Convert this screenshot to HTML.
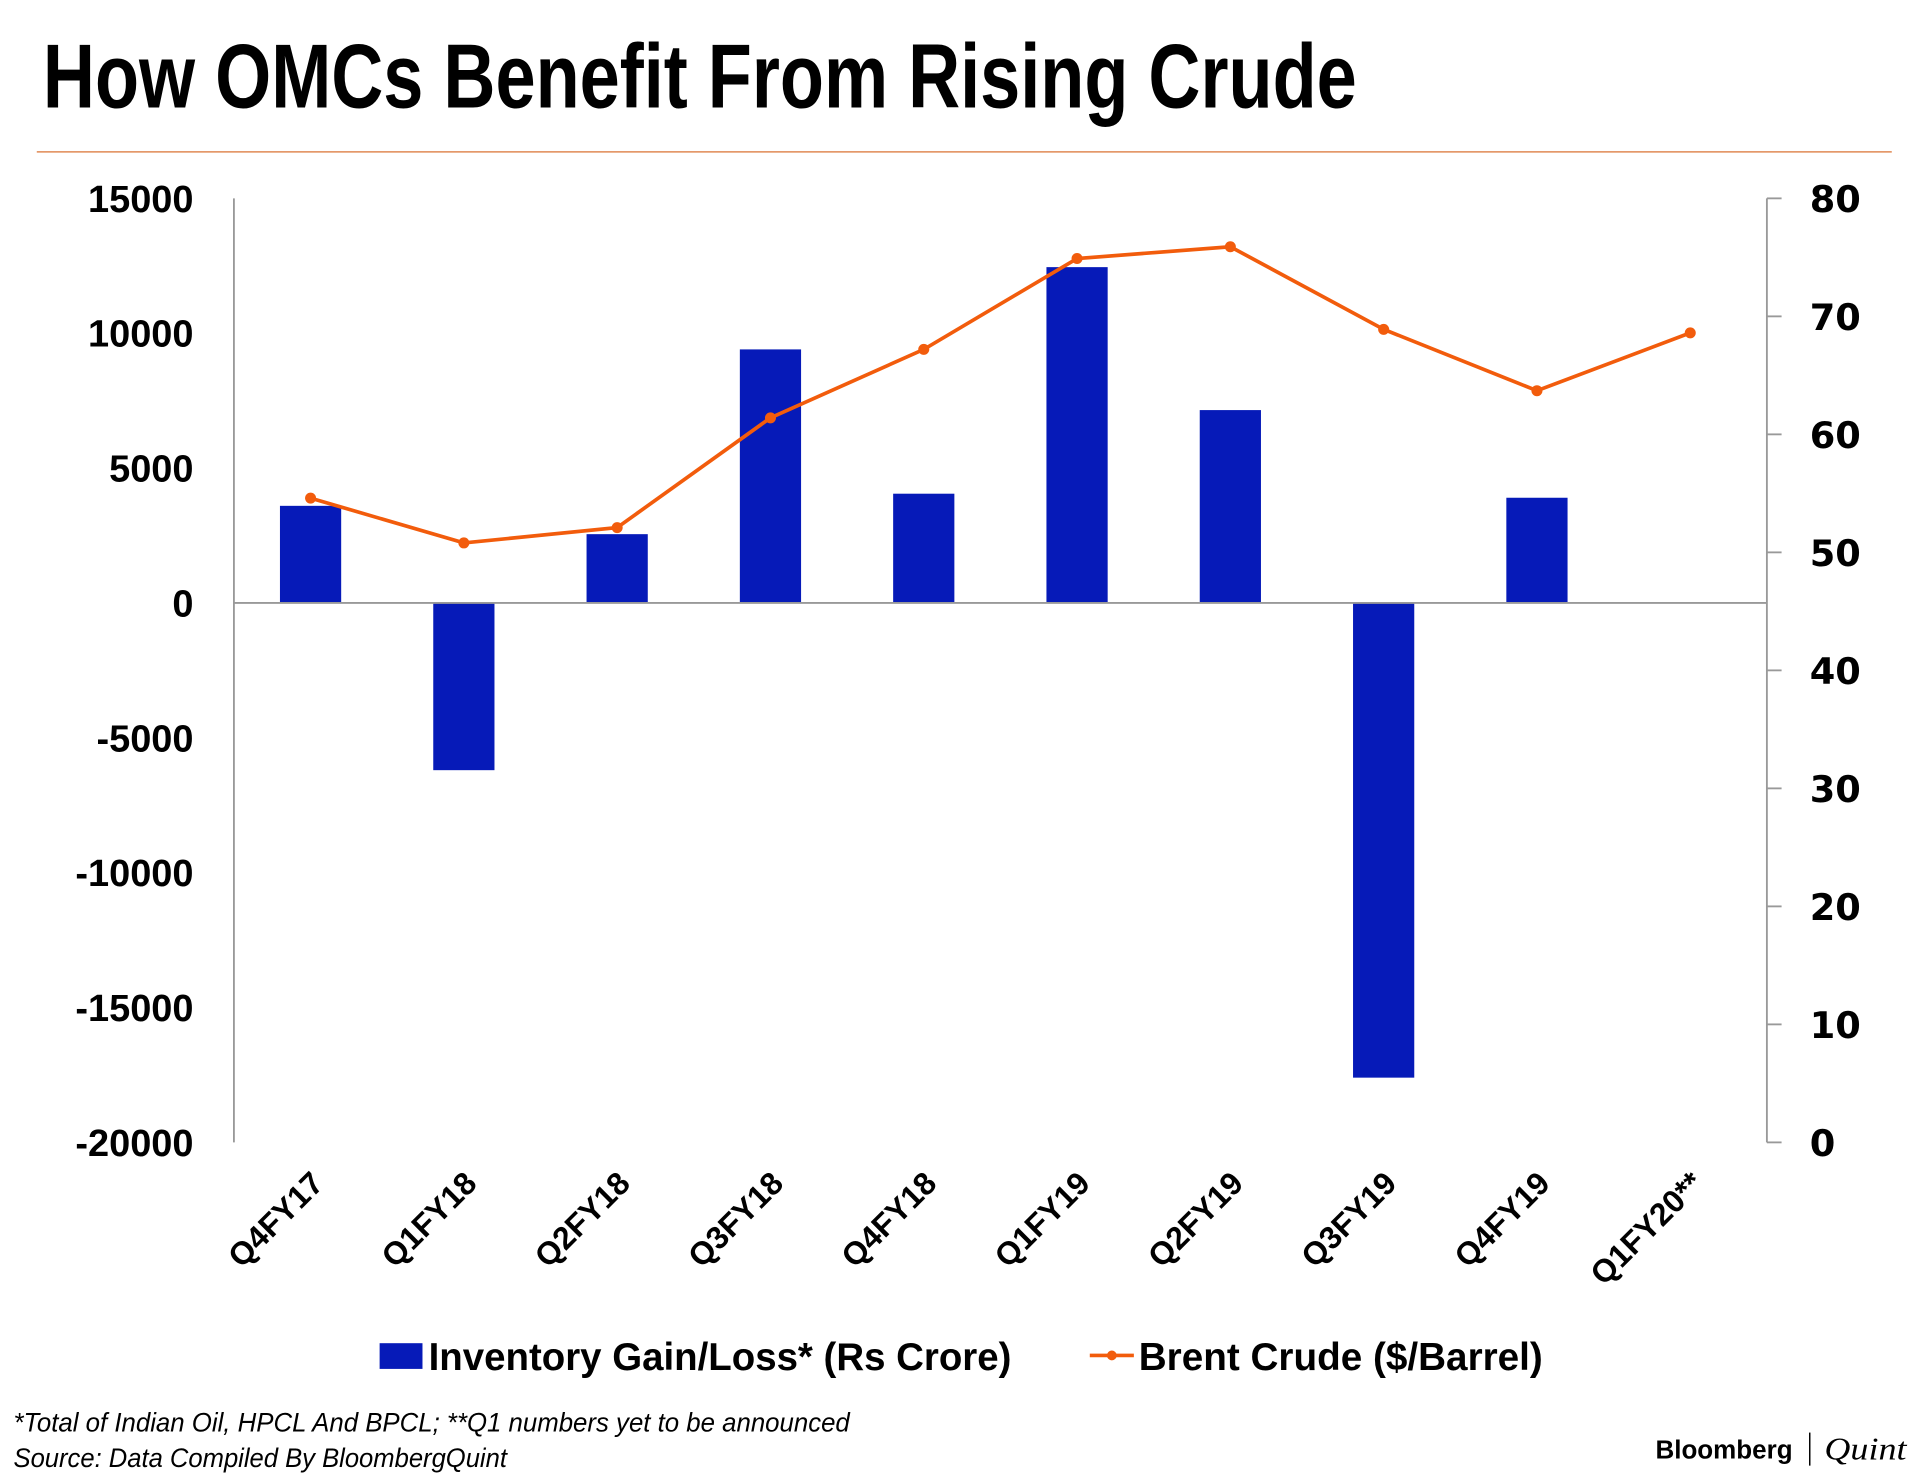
<!DOCTYPE html>
<html><head><meta charset="utf-8"><style>
html,body{margin:0;padding:0;background:#fff;}
svg{display:block;}
text{font-family:"Liberation Sans Narrow","Liberation Sans",sans-serif;font-weight:bold;fill:#000;}
</style></head><body>
<svg id="chart" width="1920" height="1484" viewBox="0 0 1568 1212" xmlns="http://www.w3.org/2000/svg">
<text x="35" y="88" font-size="74" textLength="1073" lengthAdjust="spacingAndGlyphs">How OMCs Benefit From Rising Crude</text>
<line x1="30" y1="124" x2="1545" y2="124" stroke="#e08a55" stroke-width="1.2"/>
<g id="plot"></g>
<rect x="310" y="1097" width="35" height="21" fill="#061ab8"/>
<text x="350" y="1119" font-size="32" textLength="476" lengthAdjust="spacingAndGlyphs">Inventory Gain/Loss* (Rs Crore)</text>
<line x1="890" y1="1107" x2="926" y2="1107" stroke="#f25c0c" stroke-width="3"/>
<circle cx="908" cy="1107" r="4" fill="#f25c0c"/>
<text x="930" y="1119" font-size="32" textLength="330" lengthAdjust="spacingAndGlyphs">Brent Crude ($/Barrel)</text>
<text x="11" y="1169" font-size="22" font-weight="normal" font-style="italic" textLength="683" lengthAdjust="spacingAndGlyphs" style="font-weight:normal">*Total of Indian Oil, HPCL And BPCL; **Q1 numbers yet to be announced</text>
<text x="11" y="1198" font-size="22" font-style="italic" textLength="403" lengthAdjust="spacingAndGlyphs" style="font-weight:normal">Source: Data Compiled By BloombergQuint</text>
<text x="1352" y="1191" font-size="21" textLength="112" lengthAdjust="spacingAndGlyphs" style="font-family:'Liberation Sans',sans-serif">Bloomberg</text>
<line x1="1478" y1="1170" x2="1478" y2="1197" stroke="#000" stroke-width="1.2"/>
<text x="1490" y="1192" font-size="26" font-style="italic" textLength="67" lengthAdjust="spacingAndGlyphs" style="font-family:'Liberation Serif',serif;font-weight:normal">Quint</text>
</svg>
<script>
const categories=["Q4FY17","Q1FY18","Q2FY18","Q3FY18","Q4FY18","Q1FY19","Q2FY19","Q3FY19","Q4FY19","Q1FY20**"];
const inventory=[3600,-6200,2550,9400,4050,12450,7150,-17600,3900,null];
const brent=[54.6,50.8,52.1,61.4,67.2,74.9,75.9,68.9,63.7,68.6];
const leftTicks=[15000,10000,5000,0,-5000,-10000,-15000,-20000];
const rightTicks=[80,70,60,50,40,30,20,10,0];
const NS="http://www.w3.org/2000/svg";
const g=document.getElementById("plot");
const X0=191,X1=1443,Y0=162,Y1=933;
const yL=v=>Y0+(15000-v)/35000*(Y1-Y0);
const yR=v=>Y0+(80-v)/80*(Y1-Y0);
const band=(X1-X0)/categories.length;
const xC=i=>X0+band*(i+0.5);
function el(t,a){const e=document.createElementNS(NS,t);for(const k in a)e.setAttribute(k,a[k]);g.appendChild(e);return e;}
let e;
e=el("line",{x1:X0,y1:Y0,x2:X0,y2:Y1,stroke:"#999","stroke-width":1.5});


e=el("line",{x1:X1,y1:Y0,x2:X1,y2:Y1,stroke:"#999","stroke-width":1.5});


leftTicks.forEach(v=>{
  const t=el("text",{x:158,y:yL(v)+11,"font-size":31,"text-anchor":"end"});
  t.textContent=v;
  
  
});
rightTicks.forEach(v=>{
  const l=el("line",{x1:X1,y1:yR(v),x2:X1+12,y2:yR(v),stroke:"#999","stroke-width":1.5});
  
  
  const t=el("text",{x:1478,y:yR(v)+11,"font-size":30,style:"font-family:'DejaVu Sans',sans-serif;font-weight:bold"});
  t.textContent=v;
  
  
});
inventory.forEach((v,i)=>{
  if(v===null)return;
  const y=Math.min(yL(v),yL(0)),h=Math.abs(yL(v)-yL(0));
  const r=el("rect",{x:xC(i)-25,y:y,width:50,height:h,fill:"#061ab8"});
  
  
});
e=el("line",{x1:X0,y1:yL(0),x2:X1,y2:yL(0),stroke:"#999","stroke-width":1.5});


const pts=brent.map((v,i)=>xC(i)+","+yR(v)).join(" ");
e=el("polyline",{points:pts,fill:"none",stroke:"#f25c0c","stroke-width":3});


brent.forEach((v,i)=>{
  const c=el("circle",{cx:xC(i),cy:yR(v),r:4.5,fill:"#f25c0c"});
  
  
});
categories.forEach((c,i)=>{
  const x=xC(i)+12,y=968;
  const t=el("text",{x:x,y:y,"font-size":26,"text-anchor":"end",transform:`rotate(-45 ${x} ${y})`});
  t.textContent=c;
  
  
});
</script>
</body></html>
